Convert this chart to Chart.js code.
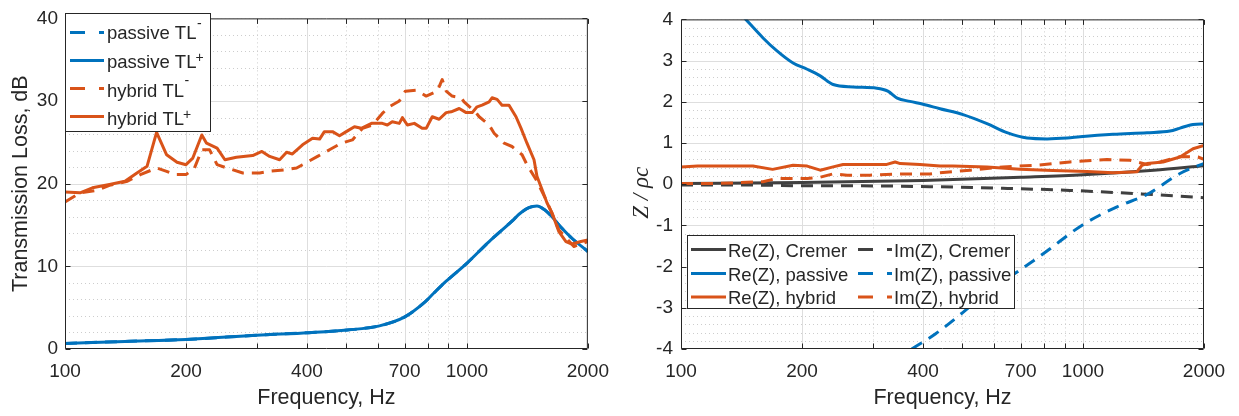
<!DOCTYPE html>
<html><head><meta charset="utf-8">
<script src="https://cdn.jsdelivr.net/npm/chart.js@4.4.1/dist/chart.umd.min.js"></script>
<style>
html,body{margin:0;padding:0;background:#fff;}
#wrap{position:relative;width:1239px;height:416px;overflow:hidden;background:#fff;}
canvas{position:absolute;top:0;}
#c1{left:0}
#c2{left:620px}
</style></head><body>
<div id="wrap"><canvas id="c1" width="620" height="416"></canvas><canvas id="c2" width="619" height="416"></canvas></div>
<script>
// ---------- tick labels ----------
const xTickValues = [100, 200, 400, 700, 1000, 2000];
const xMinorValues = [300, 500, 600, 800, 900];

// ---------- left panel: transmission loss (dB) ----------
const freqPassive = [100,141,200,300,404,504,606,699,783,829,888,1001,1136,1303,1348,1427,1494,1555,1628,1724,1825,2000];
const tlPassivePlus = [0.68,0.92,1.15,1.67,1.98,2.3,2.8,3.85,5.6,6.8,8.2,10.4,13.0,15.6,16.3,17.1,17.3,16.9,16.0,14.6,13.4,11.8];
const tlPassiveMinus = [0.68,0.92,1.15,1.67,1.98,2.3,2.8,3.85,5.6,6.8,8.2,10.4,13.0,15.6,16.3,17.1,17.3,16.9,16.0,14.6,13.4,11.8];

const freqHybridPlus = [100,109,117,129,141,151,160,169,179,190,200,208,219,225,239,250,267,293,309,323,342,356,368,390,413,430,442,463,482,501,525,546,579,616,634,652,679,691,711,740,774,792,820,853,888,914,957,996,1031,1060,1091,1136,1155,1189,1223,1273,1325,1364,1411,1469,1494,1538,1582,1628,1694,1764,1825,1922,2000];
const tlHybridPlus = [19.0,18.9,19.5,19.9,20.3,21.3,22.1,26.2,23.5,22.6,22.3,23.1,25.9,24.9,24.3,22.9,23.2,23.4,23.9,23.3,22.9,23.8,23.6,24.7,25.5,25.4,26.3,26.3,25.8,26.3,26.9,26.7,27.3,27.3,27.1,27.5,27.3,28.0,27.1,27.3,26.7,26.7,28.1,27.8,28.6,28.7,29.1,28.6,28.6,29.3,29.5,29.9,30.4,30.2,29.5,29.5,28.1,26.7,24.9,22.9,20.9,19.3,17.7,16.5,14.2,13.0,12.7,13.0,13.2];

const freqHybridMinus = [100,109,120,129,143,154,169,179,188,200,210,219,229,239,253,277,305,323,356,377,390,425,455,487,519,550,582,616,641,679,703,748,792,844,868,888,919,968,984,1054,1073,1136,1169,1238,1295,1372,1411,1486,1573,1694,1846,2000];
const tlHybridMinus = [17.8,18.9,19.2,19.8,20.3,21.1,21.9,21.5,21.1,21.1,21.9,24.1,24.1,22.3,21.9,21.3,21.3,21.5,21.7,21.9,22.3,23.3,24.1,24.9,25.3,26.7,27.1,28.5,29.3,30.0,31.2,31.3,30.6,31.2,32.6,31.2,30.6,30.4,29.9,28.6,28.1,27.1,26.1,24.9,24.5,23.5,22.3,20.5,18.1,14.4,12.4,13.0];

// ---------- right panel: normalised impedance Z / rho c ----------
const freqReCremer = [100,200,400,700,1000,1500,2000];
const reCremer = [0.02,0.04,0.09,0.17,0.23,0.34,0.45];
const freqImCremer = [100,146,206,268,416,632,928,1362,1675,2000];
const imCremer = [-0.02,-0.02,-0.04,-0.04,-0.06,-0.10,-0.15,-0.23,-0.28,-0.33];

const freqRePassive = [144,160,173,190,206,222,239,268,307,327,345,371,400,441,503,577,647,726,814,913,983,1188,1443,1646,1743,1878,2000];
const rePassive = [4.03,3.55,3.24,2.94,2.79,2.63,2.42,2.36,2.33,2.26,2.09,2.01,1.94,1.83,1.69,1.47,1.25,1.12,1.10,1.12,1.15,1.21,1.25,1.29,1.36,1.45,1.46];
const freqImPassive = [375,430,503,590,691,809,993,1215,1443,1743,1920,2000];
const imPassive = [-4.0,-3.63,-3.11,-2.55,-2.11,-1.64,-1.0,-0.55,-0.25,0.26,0.44,0.50];

const freqReHybrid = [100,110,151,169,190,206,222,239,253,295,325,341,351,393,441,475,577,697,842,1023,1188,1362,1402,1443,1582,1743,1878,2000];
const reHybrid = [0.42,0.44,0.44,0.36,0.46,0.44,0.34,0.42,0.48,0.48,0.48,0.54,0.50,0.48,0.44,0.44,0.42,0.36,0.33,0.31,0.28,0.30,0.46,0.50,0.54,0.66,0.86,0.94];
const freqImHybrid = [100,125,160,173,206,222,239,259,295,357,416,441,524,632,768,928,1059,1148,1309,1443,1555,1743,1932,2000];
const imHybrid = [0.02,0.02,0.06,0.14,0.14,0.17,0.25,0.22,0.22,0.25,0.25,0.28,0.34,0.42,0.46,0.54,0.58,0.60,0.58,0.48,0.54,0.67,0.66,0.60];

// ---------- styling ----------
const BLUE = '#0072BD', ORANGE = '#D95319', GRAY = '#404040', TXT = '#262626';
const FONT = "'Liberation Sans', Arial, Helvetica, sans-serif";
const SERIF = "'Liberation Serif', 'DejaVu Serif', 'Times New Roman', serif";

function pts(f, v) { return f.map((x, i) => ({ x: x, y: v[i] })); }
function series(label, f, v, color, dashed, order, smooth) {
  return {
    label: label, data: pts(f, v), borderColor: color, backgroundColor: color,
    borderWidth: 3, borderDash: dashed ? [12, 8] : [], pointRadius: 0, pointHoverRadius: 0,
    tension: smooth ? 0.4 : 0, cubicInterpolationMode: smooth ? 'monotone' : 'default',
    fill: false, clip: 0, order: order, borderCapStyle: 'butt', borderJoinStyle: 'round'
  };
}

function drawLabel(ctx, text, x, y, size) {
  const last = text.slice(-1);
  if (last === '\u207B' || last === '\u207A') {
    const base = text.slice(0, -1);
    ctx.font = size + 'px ' + FONT;
    ctx.fillText(base, x, y);
    const w = ctx.measureText(base).width;
    ctx.font = '14px ' + FONT;
    if (last === '\u207B') ctx.fillText('-', x + w + 0.5, y - 11.5);
    else ctx.fillText('+', x + w - 1, y - 6);
  } else {
    ctx.font = size + 'px ' + FONT;
    ctx.fillText(text, x, y);
  }
}

const matlabAxes = {
  id: 'matlabAxes',
  beforeDatasetsDraw(chart, args, o) {
    const { ctx, chartArea: a, scales: { x, y } } = chart;
    ctx.save();
    ctx.beginPath(); ctx.rect(a.left, a.top, a.right - a.left, a.bottom - a.top); ctx.clip();
    ctx.lineWidth = 1;
    ctx.strokeStyle = '#cdcdcd'; ctx.setLineDash([1, 3]);
    ctx.beginPath();
    xMinorValues.forEach(v => { const p = Math.round(x.getPixelForValue(v)) + 0.5; ctx.moveTo(p, a.top); ctx.lineTo(p, a.bottom); });
    for (let v = y.min; v <= y.max + 1e-9; v += o.yMinorStep) {
      const p = Math.round(y.getPixelForValue(v)) + 0.5; ctx.moveTo(a.left, p); ctx.lineTo(a.right, p);
    }
    ctx.stroke();
    ctx.setLineDash([]); ctx.strokeStyle = '#dedede';
    ctx.beginPath();
    x.ticks.forEach(t => { const p = Math.round(x.getPixelForValue(t.value)) + 0.5; ctx.moveTo(p, a.top); ctx.lineTo(p, a.bottom); });
    y.ticks.forEach(t => { const p = Math.round(y.getPixelForValue(t.value)) + 0.5; ctx.moveTo(a.left, p); ctx.lineTo(a.right, p); });
    ctx.stroke();
    ctx.restore();
  },
  afterDatasetsDraw(chart, args, o) {
    const { ctx, chartArea: a, scales: { x, y } } = chart;
    ctx.save();
    ctx.strokeStyle = TXT; ctx.lineWidth = 1; ctx.setLineDash([]);
    ctx.beginPath();
    const L = a.left + 0.5, R = a.right - 0.5, T = a.top + 0.5, B = a.bottom - 0.5;
    ctx.rect(L, T, R - L, B - T);
    const xt = xTickValues.concat(xMinorValues);
    xt.forEach(v => { const p = Math.round(x.getPixelForValue(v)) + 0.5; ctx.moveTo(p, B); ctx.lineTo(p, B - 5); ctx.moveTo(p, T); ctx.lineTo(p, T + 5); });
    y.ticks.forEach(t => { const p = Math.round(y.getPixelForValue(t.value)) + 0.5; ctx.moveTo(L, p); ctx.lineTo(L + 5, p); ctx.moveTo(R, p); ctx.lineTo(R - 5, p); });
    ctx.stroke();
    // legend
    const lg = o.legend;
    ctx.fillStyle = '#ffffff';
    ctx.fillRect(lg.box[0], lg.box[1], lg.box[2], lg.box[3]);
    ctx.strokeStyle = TXT; ctx.lineWidth = 1;
    ctx.strokeRect(lg.box[0] + 0.5, lg.box[1] + 0.5, lg.box[2] - 1, lg.box[3] - 1);
    lg.items.forEach(it => {
      const d = chart.data.datasets[it.ds];
      ctx.strokeStyle = d.borderColor; ctx.lineWidth = 3; ctx.lineCap = 'butt';
      ctx.setLineDash(d.borderDash.length ? [15, 14] : []);
      ctx.beginPath(); ctx.moveTo(it.x0, it.y); ctx.lineTo(it.x1, it.y); ctx.stroke();
      ctx.setLineDash([]);
      ctx.fillStyle = TXT; ctx.textAlign = 'left'; ctx.textBaseline = 'alphabetic';
      drawLabel(ctx, d.label, it.tx, it.ty, lg.size);
    });
    ctx.restore();
  }
};

function makeChart(canvas, c) {
  return new Chart(canvas, {
    type: 'line',
    data: { datasets: c.datasets },
    options: {
      responsive: false, animation: false, devicePixelRatio: 1,
      events: [],
      layout: { padding: { left: 0, top: 13, right: c.padRight, bottom: 0 } },
      plugins: { legend: { display: false }, tooltip: { enabled: false }, matlabAxes: c.axes },
      scales: {
        x: {
          type: 'logarithmic', min: 100, max: 2000,
          afterBuildTicks: s => { s.ticks = xTickValues.map(v => ({ value: v })); },
          afterFit: s => { s.height = 67; },
          ticks: { autoSkip: false, maxRotation: 0, padding: 11, color: TXT, font: { family: FONT, size: 19 }, callback: v => String(v) },
          grid: { display: false, drawTicks: false }, border: { display: false },
          title: { display: true, text: 'Frequency, Hz', color: TXT, font: { family: FONT, size: 21.5 }, padding: { top: 0, bottom: 5 } }
        },
        y: {
          type: 'linear', min: c.yMin, max: c.yMax,
          afterFit: s => { s.width = c.yWidth; },
          ticks: { stepSize: c.yStep, padding: c.yPad, color: TXT, font: { family: FONT, size: 19 } },
          grid: { display: false, drawTicks: false }, border: { display: false },
          title: c.yTitle
        }
      }
    },
    plugins: [matlabAxes]
  });
}

makeChart(document.getElementById('c1'), {
  padRight: 31, yWidth: 65, yMin: 0, yMax: 40, yStep: 10, yPad: 7,
  yTitle: { display: true, text: 'Transmission Loss, dB', color: TXT, font: { family: FONT, size: 21.5 }, padding: { top: 8, bottom: 0 } },
  datasets: [
    series('passive TL\u207B', freqPassive, tlPassiveMinus, BLUE, true, 4, true),
    series('passive TL\u207A', freqPassive, tlPassivePlus, BLUE, false, 3, true),
    series('hybrid TL\u207B', freqHybridMinus, tlHybridMinus, ORANGE, true, 2, false),
    series('hybrid TL\u207A', freqHybridPlus, tlHybridPlus, ORANGE, false, 1, false)
  ],
  axes: {
    yMinorStep: 2,
    legend: {
      box: [65, 13, 146, 119], size: 18.5,
      items: [
        { ds: 0, x0: 70, x1: 104, y: 32.5, tx: 107, ty: 39.3 },
        { ds: 1, x0: 70, x1: 104, y: 60.5, tx: 107, ty: 68 },
        { ds: 2, x0: 70, x1: 104, y: 88.5, tx: 107, ty: 96.5 },
        { ds: 3, x0: 70, x1: 104, y: 116.5, tx: 107, ty: 125 }
      ]
    }
  }
});

makeChart(document.getElementById('c2'), {
  padRight: 35, yWidth: 61, yMin: -4, yMax: 4, yStep: 1, yPad: 8,
  yTitle: { display: true, text: 'Z / \u03C1c   ', color: TXT, font: { family: SERIF, size: 23, style: 'italic' }, padding: { top: 8, bottom: 0 } },
  datasets: [
    series('Re(Z), Cremer', freqReCremer, reCremer, GRAY, false, 6, true),
    series('Im(Z), Cremer', freqImCremer, imCremer, GRAY, true, 5, true),
    series('Re(Z), passive', freqRePassive, rePassive, BLUE, false, 4, true),
    series('Im(Z), passive', freqImPassive, imPassive, BLUE, true, 3, true),
    series('Re(Z), hybrid', freqReHybrid, reHybrid, ORANGE, false, 2, false),
    series('Im(Z), hybrid', freqImHybrid, imHybrid, ORANGE, true, 1, false)
  ],
  axes: {
    yMinorStep: 0.2,
    legend: {
      box: [67, 235, 328, 74], size: 18.5,
      items: [
        { ds: 0, x0: 71, x1: 106, y: 249.5, tx: 108, ty: 256.6 },
        { ds: 1, x0: 238, x1: 272, y: 249.5, tx: 274, ty: 256.6 },
        { ds: 2, x0: 71, x1: 106, y: 273.5, tx: 108, ty: 280.6 },
        { ds: 3, x0: 238, x1: 272, y: 273.5, tx: 274, ty: 280.6 },
        { ds: 4, x0: 71, x1: 106, y: 297, tx: 108, ty: 304.3 },
        { ds: 5, x0: 238, x1: 272, y: 297, tx: 274, ty: 304.3 }
      ]
    }
  }
});
</script>
</body></html>
